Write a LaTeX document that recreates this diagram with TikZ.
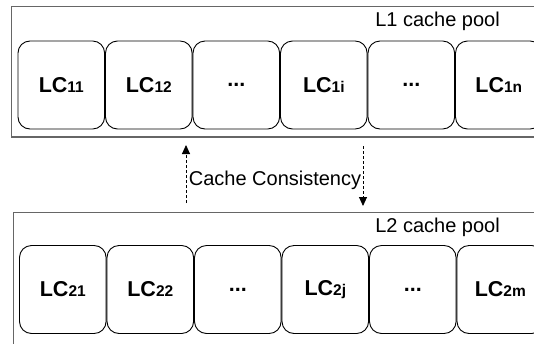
\documentclass[tikz,border=0pt]{standalone}
\usepackage{fontspec}
\setmainfont{Liberation Sans}
\usetikzlibrary{positioning,arrows.meta}

\newcommand{\lcname}[2]{\textbf{LC}{\fontsize{15.5}{15.5}\selectfont\bfseries #1#2}}

\begin{document}
\begin{tikzpicture}[x=1pt,y=-1pt,>={Triangle[width=8pt,length=9pt]},
  pool/.style={draw=black!60,line width=1.5pt},
  cachebox/.style={draw,line width=0.9pt,rounded corners=12pt,minimum width=86.6pt,
    minimum height=88pt,inner sep=0pt,font=\fontsize{21.5}{24}\selectfont},
  poolname/.style={font=\fontsize{20}{24}\selectfont,anchor=base east,inner sep=0pt},
  sync/.style={->,dashed,dash pattern=on 3pt off 2pt,line width=0.9pt}]
  \useasboundingbox (0,0) rectangle (534,343);
  \clip (0,0) rectangle (534,343);
  % L1 pool
  \draw[pool] (11.7,6.7) rectangle (560,137);
  \node[poolname] (name1) at (500,26) {L1 cache pool};
  \node[cachebox] (lc11) at (61.3,85) {\lcname{1}{1}};
  \node[cachebox,right=0pt of lc11] (lc12) {\lcname{1}{2}};
  \node[cachebox,right=0pt of lc12] (dots1) {\textbf{...}};
  \node[cachebox,right=0pt of dots1] (lc1i) {\lcname{1}{i}};
  \node[cachebox,right=0pt of lc1i] (more1) {\textbf{...}};
  \node[cachebox,right=0pt of more1] (lc1n) {\lcname{1}{n}};
  % L2 pool
  \draw[pool] (13.3,212.7) rectangle (560,370);
  \node[poolname] (name2) at (500,232) {L2 cache pool};
  \node[cachebox] (lc21) at (62.8,289.5) {\lcname{2}{1}};
  \node[cachebox,right=0pt of lc21] (lc22) {\lcname{2}{2}};
  \node[cachebox,right=0pt of lc22] (dots2) {\textbf{...}};
  \node[cachebox,right=0pt of dots2] (lc2j) {\lcname{2}{j}};
  \node[cachebox,right=0pt of lc2j] (more2) {\textbf{...}};
  \node[cachebox,right=0pt of more2] (lc2m) {\lcname{2}{m}};
  % consistency
  \coordinate (upfrom) at (186,203);
  \coordinate (upto) at (186,145);
  \coordinate (downfrom) at (363,146);
  \coordinate (downto) at (363,206);
  \draw[sync] (upfrom) -- (upto);
  \draw[sync] (downfrom) -- (downto);
  \node[font=\fontsize{20}{24}\selectfont,anchor=base,inner sep=0pt] (consist) at (275,185) {Cache Consistency};
\end{tikzpicture}
\end{document}
